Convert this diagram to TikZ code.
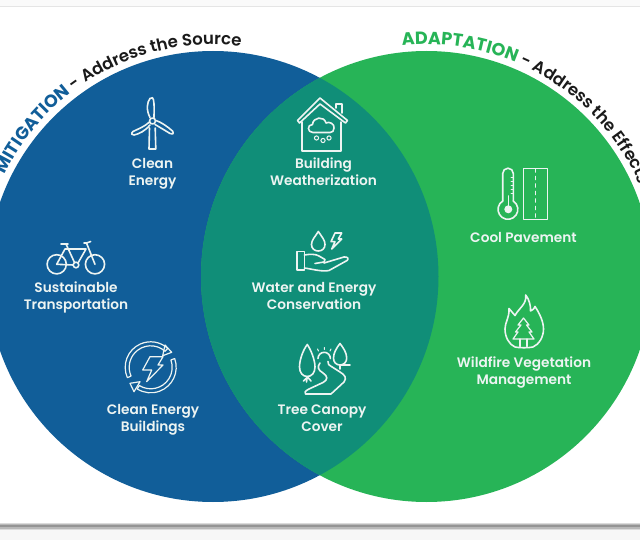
\documentclass[tikz,border=0pt]{standalone}
\usepackage{fontspec}
\setmainfont{Poppins}[BoldFont={Poppins SemiBold}]
\newfontfamily\heavyfont{Poppins}[BoldFont={Poppins Bold}]
\usetikzlibrary{decorations.text}
\definecolor{mitblue}{HTML}{115E99}
\definecolor{adagreen}{HTML}{27B457}
\definecolor{overlapteal}{HTML}{108E78}
\definecolor{inkblack}{HTML}{1A1A1A}
\definecolor{iconwhite}{HTML}{EDF4F2}
\tikzset{
  label/.style={text=iconwhite,font=\fontsize{13.7}{17.3}\selectfont\bfseries,align=center,inner sep=0pt,anchor=center},
  icon/.style={draw=iconwhite,line width=1.6pt,line join=round,line cap=round},
  iconfill/.style={fill=iconwhite,draw=none},
}
\begin{document}
\begin{tikzpicture}[x=1pt,y=-1pt]
\useasboundingbox (0,0) rectangle (640,540);
\clip (0,0) rectangle (640,540);
\fill[white] (0,0) rectangle (640,540);
% frame of the screenshot
\fill[black!2] (0,0) rectangle (640,6);
\draw[black!10,line width=1pt] (0,7) -- (640,7);
\fill[black!3] (0,529) rectangle (640,540);
\fill[black!14] (0,522.5) rectangle (640,529.5);
\fill[black!28] (0,523.5) rectangle (640,528.5);
\fill[black!42] (0,525) rectangle (640,527);
% circles
\coordinate (cl) at (213,276.5);
\coordinate (cr) at (426.5,276.5);
\fill[mitblue] (cl) circle (225.5);
\fill[adagreen] (cr) circle (225.5);
\begin{scope}
  \clip (cl) circle (225.5);
  \fill[overlapteal] (cr) circle (225.5);
\end{scope}
% curved titles
\path[decorate,decoration={text along path,text align={left},
  text={|\heavyfont\fontsize{17.6}{20}\selectfont\bfseries\color{mitblue}|MITIGATION|\fontsize{16.6}{20}\selectfont\bfseries\color{inkblack}| - Address the Source}}]
  (cl) ++(-154:232) arc (-154:-78:232);
\path[decorate,decoration={text along path,text align={left},
  text={|\heavyfont\fontsize{17.6}{20}\selectfont\bfseries\color{adagreen}|ADAPTATION|\fontsize{16.6}{20}\selectfont\bfseries\color{inkblack}| - Address the Effects}}]
  (cr) ++(-96:232) arc (-96:0:232);
% labels
\node[label] (lclean) at (152.5,173.5) {\strut Clean\\\strut Energy};
\node[label] (lbuild) at (323.5,173.5) {\strut Building\\\strut Weatherization};
\node[label] (lsust) at (76,297.5) {\strut Sustainable\\\strut Transportation};
\node[label] (lceb) at (153,419.5) {\strut Clean Energy\\\strut Buildings};
\node[label] (lwater) at (314,297.5) {\strut Water and Energy\\\strut Conservation};
\node[label] (ltree) at (322,419.5) {\strut Tree Canopy\\\strut Cover};
\node[label] (lcool) at (523.5,239) {\strut Cool Pavement};
\node[label] (lwild) at (524,372.5) {\strut Wildfire Vegetation\\\strut Management};
% wind turbine
\draw[icon] (149.5,128) -- (149,149) -- (155.8,149) -- (155.2,128);
\draw[icon] (152.5,121) circle (3);
\draw[icon] (150,117.5) .. controls (146,110) and (147,102) .. (150,98.5) .. controls (152,96.5) and (153.5,98) .. (153.5,100) .. controls (154.5,105) and (154,111) .. (154,117.5);
\draw[icon] (149.5,122) .. controls (144,127) and (138,129) .. (133,131.5) .. controls (130.5,133.5) and (132,135.5) .. (134,135) .. controls (139,134) and (145,131) .. (150,125);
\draw[icon] (156,120.5) .. controls (161,122) and (168,127) .. (172.5,131) .. controls (174.5,134) and (172,135) .. (170,133.5) .. controls (166,131) and (161,128) .. (155,124.5);
% house
\draw[icon] (320,98) -- (347.5,120.5) -- (345.5,123) -- (320,104) -- (299.5,123) -- (297.5,120.5) -- cycle;
\draw[icon] (302,122) -- (302,151) -- (341,151) -- (341,122);
\draw[icon] (336,108) -- (336,104) -- (342,104) -- (342,113);
\draw[icon] (313,132.5) .. controls (307,132.5) and (307,124.5) .. (312.5,124.5) .. controls (313,117) and (324,115.5) .. (326,123) .. controls (329,121) and (335,124) .. (334,128) .. controls (334.5,131) and (332,132.5) .. (330,132.5) -- cycle;
\draw[icon,line width=1pt] (316.5,138) circle (2.1) (323,140.5) circle (2.1) (329,138) circle (2.1);
% hand with drop and bolt
\draw[icon] (318.3,231.5) .. controls (322,237) and (325,240) .. (325,244.5) .. controls (325,248.5) and (322,251) .. (318.3,251) .. controls (314.5,251) and (311.5,248.5) .. (311.5,244.5) .. controls (311.5,240) and (315,237) .. (318.3,231.5) -- cycle;
\draw[icon] (335,233) -- (341.7,233) -- (338.3,239) -- (341.7,239) -- (331.7,249) -- (335,241.7) -- (331,241.7) -- cycle;
\draw[icon] (296.7,251.7) -- (304.3,251.7) -- (304.3,270) -- (296.7,270) -- cycle;
\draw[icon] (304.3,255) .. controls (310,254) and (316,254) .. (319,256) -- (325,259.5) .. controls (326,262) and (323,262.5) .. (321,262.5) -- (315,263.5);
\draw[icon] (324,263) -- (344,257) .. controls (348,256.5) and (349,259) .. (347,260.5) -- (329,270.5) .. controls (322,272) and (312,269) .. (304.3,268);
% tree canopy and road
\draw[icon] (307.3,344.5) .. controls (303,350) and (299.5,360) .. (299.5,367) .. controls (299.5,373) and (303,376.5) .. (307.3,376.5) .. controls (311.5,376.5) and (315,373) .. (315,367) .. controls (315,360) and (311,350) .. (307.3,344.5) -- cycle;
\draw[icon] (307.3,376.5) -- (306.5,382) (303.5,381) -- (307,377.5) (311,381) -- (308,377.5);
\draw[icon] (340,343.5) .. controls (336.5,348) and (333.5,353) .. (333.5,358) .. controls (333.5,362) and (336,365) .. (340,365) .. controls (344,365) and (346.7,362) .. (346.7,358) .. controls (346.7,353) and (343.5,348) .. (340,343.5) -- cycle;
\draw[icon] (340,365) -- (340,369) (340,365) -- (350,365);
\draw[icon] (318,358.5) arc (-180:0:6.2);
\draw[icon,line width=1.1pt] (324.3,347.5) -- (324.3,349.5) (317.5,349) -- (318.5,351) (331,349) -- (330,351);
\draw[icon] (320,363) .. controls (317,367) and (318,370) .. (323,373) .. controls (328,376) and (328,380) .. (323,382.5) -- (309,389) .. controls (305,391) and (304,393) .. (305.5,394) -- (331,394) -- (344,382) .. controls (347,378) and (345,375) .. (340,372) -- (333,367.5) .. controls (329,365) and (327,364) .. (328,361.5);
% clean energy arrows
\coordinate (ac) at (150.7,367.3);
\draw[icon,line width=1.2pt] (ac) ++(156:25.5) arc (156:312:25.5) -- ++(132:4) arc (312:156:21.5) -- cycle;
\draw[icon,line width=1.2pt] (ac) ++(-20:25.5) arc (-20:122:25.5) -- ++(302:4) arc (122:-20:21.5) -- cycle;
\draw[icon,line width=1.2pt] (165,345) -- (171.7,352.3) -- (162.7,355.7) -- cycle;
\draw[icon,line width=1.2pt] (130,383.3) -- (140,381.7) -- (134,391.7) -- cycle;
\draw[icon,line width=1.2pt] (150,356.7) -- (163,356.7) -- (158,365) -- (163,365) -- (146.7,381.7) -- (151.7,370) -- (142.7,370) -- cycle;
% bicycle
\draw[icon] (56.7,264.3) circle (9.6) (95,264.3) circle (9.6);
\draw[icon] (76,265) circle (2.8);
\draw[icon] (61,244) -- (68,244) (66,244) -- (74.5,262.5) (78,263) -- (86,249) (65,249) -- (86,249) (56.7,264.3) -- (65,249) (56.7,264.3) -- (73,265);
\draw[icon] (95,264.3) -- (86.5,243) -- (84,243) (86.5,243) -- (90.7,241.5);
% thermometer and road
\draw[icon] (502.7,201) -- (502.7,173.5) arc (180:360:5.3) -- (513.3,201);
\draw[icon] (502.7,201) arc (-122:-418:9.9);
\fill[iconfill] (508.3,209.3) circle (4);
\draw[icon] (508.3,207) -- (508.3,196);
\draw[icon,line width=.8pt] (513.3,177) -- (511,177) (513.3,181) -- (511,181) (513.3,185) -- (511,185) (513.3,189) -- (511,189) (513.3,193) -- (511,193);
\draw[icon] (523.3,168.5) rectangle (547.3,219.5);
\draw[icon,dash pattern=on 3pt off 4.5pt] (535.3,169) -- (535.3,219);
% flame
\draw[icon] (515,347) .. controls (509,344.5) and (505,337) .. (505,329) .. controls (505,322) and (509.5,318) .. (509,308.5) -- (515,315.5) .. controls (519,308) and (527,304) .. (525.7,295) .. controls (529,299) and (531,306) .. (530.5,311) .. controls (533,310) and (534.5,308.5) .. (535,306.5) .. controls (540,314) and (543.5,322) .. (543.5,329) .. controls (543.5,337) and (539,344.5) .. (533,347) .. controls (529,348) and (519,348) .. (515,347) -- cycle;
\draw[icon,line width=1.2pt] (523.5,318) -- (529,325) -- (526.5,325) -- (532,332) -- (529,332) -- (534,339) -- (513,339) -- (518,332) -- (515.5,332) -- (521,325) -- (518,325) -- cycle;
\draw[icon,line width=1.2pt] (520,339) -- (520,346.5) (527,339) -- (527,346.5);
\end{tikzpicture}
\end{document}
